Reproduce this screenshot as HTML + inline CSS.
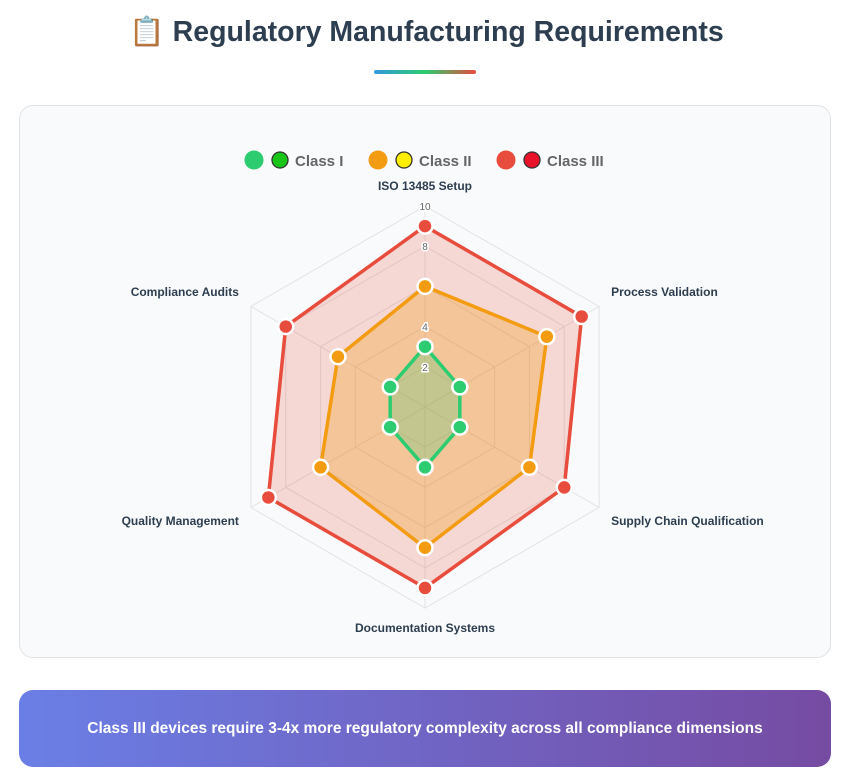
<!DOCTYPE html>
<html><head><meta charset="utf-8">
<style>
body{margin:0;width:853px;height:776px;background:#fff;font-family:"Liberation Sans",sans-serif;overflow:hidden;position:relative}
h1{position:absolute;top:15px;left:0;width:853px;text-align:center;margin:0;font-size:28.5px;color:#2c3e50;font-weight:bold}
.bar{position:absolute;left:374px;top:70px;width:102px;height:4px;border-radius:2px;background:linear-gradient(90deg,#3498db,#2ecc71,#e74c3c)}
.card{position:absolute;left:19px;top:105px;width:812px;height:553px;border:1px solid #e0e3e6;border-radius:14px;background:#f9fafb;box-sizing:border-box}
.note{position:absolute;left:19px;top:690px;width:812px;height:77px;border-radius:14px;background:linear-gradient(90deg,#6a7fe6,#764ba2);color:#fff;font-weight:bold;font-size:15.5px;display:flex;align-items:center;justify-content:center}
svg{position:absolute;left:0;top:0}
</style></head><body>
<h1>📋 Regulatory Manufacturing Requirements</h1>
<div class="bar"></div>
<div class="card"></div>
<svg id="chart" width="853" height="776"></svg>
<div class="note">Class III devices require 3-4x more regulatory complexity across all compliance dimensions</div>
<script>
const axesLabels=["ISO 13485 Setup","Process Validation","Supply Chain Qualification","Documentation Systems","Quality Management","Compliance Audits"];
const class1=[3,2,2,3,2,2];
const class2=[6,7,6,7,6,5];
const class3=[9,9,8,9,9,8];
const tickValues=[2,4,6,8,10];
const tickLabels=["2","4","","8","10"];
const seriesNames=["Class I","Class II","Class III"];
const cx=425,cy=407,R=201,maxV=10;
const NS="http://www.w3.org/2000/svg";
const svg=document.getElementById('chart');
function mk(t,a){const e=document.createElementNS(NS,t);for(const k in a)e.setAttribute(k,a[k]);svg.appendChild(e);return e;}
function pt(i,v){const a=-Math.PI/2+i*Math.PI/3;const r=v/maxV*R;return [cx+r*Math.cos(a),cy+r*Math.sin(a)];}
tickValues.forEach(t=>{const p=axesLabels.map((_,i)=>pt(i,t).join(',')).join(' ');
 const g=mk('polygon',{points:p,fill:'none',stroke:'#e3e3e3','stroke-width':1});
 
 });
const labelY=[190,296,525,632,525,296];
axesLabels.forEach((l,i)=>{const [x,y]=pt(i,maxV);const ln=mk('line',{x1:cx,y1:cy,x2:x,y2:y,stroke:'#e3e3e3'});
 
 
 let anchor='middle',xx=x;
 if(i==1||i==2){anchor='start';xx=x+12;}
 if(i==4||i==5){anchor='end';xx=x-12;}
 const tx=mk('text',{x:xx,y:labelY[i],'text-anchor':anchor,'font-size':12,'font-weight':'bold',fill:'#2c3e50'});
 tx.textContent=l;
 
 });
const series=[[class3,'#e74c3c','rgba(231,76,60,0.2)'],[class2,'#f39c12','rgba(243,156,18,0.3)'],[class1,'#2ecc71','rgba(46,204,113,0.25)']];
series.forEach(([d,c,f])=>{const p=d.map((v,i)=>pt(i,v).join(',')).join(' ');
 const pg=mk('polygon',{points:p,fill:f,stroke:c,'stroke-width':3.5,'stroke-linejoin':'round'});
 
 });
tickValues.forEach((t,k)=>{if(!tickLabels[k])return;const [x,y]=pt(0,t);
 const tx=mk('text',{x:x,y:y+4,'text-anchor':'middle','font-size':10,fill:'#666',stroke:'#fff','stroke-width':3,'paint-order':'stroke'});
 tx.textContent=tickLabels[k];
 
 });
series.forEach(([d,c])=>{d.forEach((v,i)=>{const [x,y]=pt(i,v);
 const ci=mk('circle',{cx:x,cy:y,r:7.5,fill:c,stroke:'#fff','stroke-width':2.5});
 
 });});
const legend=[[254,'#2ecc71','#1ac51a',seriesNames[0]],[378,'#f39c12','#ffee00',seriesNames[1]],[506,'#e74c3c','#e8132a',seriesNames[2]]];
legend.forEach(([x,c,c2,n])=>{
 const g=mk('circle',{cx:x,cy:160,r:9.5,fill:c});
 
 
 const g2=mk('circle',{cx:x+26,cy:160,r:8,fill:c2,stroke:'#333','stroke-width':1.3});
 
 
 const t=mk('text',{x:x+41,y:166,'font-size':15,'font-weight':'bold',fill:'#666'});t.textContent=n;
 
 });
</script>
</body></html>
